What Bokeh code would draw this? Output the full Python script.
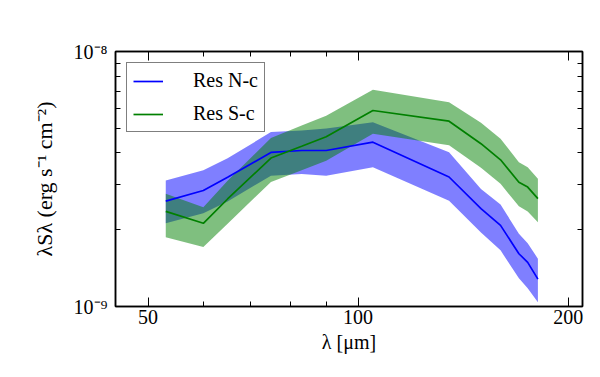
from bokeh.plotting import figure
from bokeh.models import (FixedTicker, CustomJSTickFormatter, LogAxis, Legend, LegendItem)
from bokeh.embed import file_html
from bokeh.resources import INLINE

# wavelengths (micron)
wav = [53, 60, 65, 75, 83, 90, 105, 135, 150, 160, 170, 175, 181]

# Res N-c (units of 1e-9 erg s^-1 cm^-2)
n_mid = [2.59, 2.85, 3.21, 4.02, 4.09, 4.09, 4.41, 3.22, 2.42, 2.08, 1.61, 1.49, 1.28]
n_hi = [3.12, 3.42, 3.81, 4.83, 4.90, 4.99, 5.28, 4.03, 2.89, 2.51, 1.93, 1.77, 1.54]
n_lo = [2.12, 2.32, 2.58, 3.26, 3.31, 3.26, 3.52, 2.60, 1.95, 1.66, 1.29, 1.18, 1.04]

# Res S-c
s_mid = [2.36, 2.12, 2.64, 3.82, 4.25, 4.63, 5.87, 5.33, 4.35, 3.76, 3.07, 2.94, 2.65]
s_hi = [2.77, 2.45, 3.11, 4.58, 5.13, 5.60, 7.08, 6.33, 5.25, 4.55, 3.68, 3.52, 3.17]
s_lo = [1.87, 1.71, 2.11, 3.08, 3.42, 3.73, 4.76, 4.29, 3.50, 3.03, 2.47, 2.36, 2.14]

scale = 1e-9
x_major = [50, 100, 200]
x_minor = [60, 70, 80, 90]
y_major = [1e-9, 1e-8]
y_minor = [k * 1e-9 for k in range(2, 10)]

FONT = "Liberation Serif"

p = figure(width=592, height=369, x_axis_type="log", y_axis_type="log",
           x_range=(44.9, 209.7), y_range=(1e-9, 1e-8),
           output_backend="svg", toolbar_location=None,
           min_border_left=115, min_border_right=10,
           min_border_top=51, min_border_bottom=63)
p.grid.visible = False
p.background_fill_color = "white"
p.border_fill_color = "white"
p.outline_line_color = "black"
p.outline_line_width = 1.5

def mul(a):
    return [v * scale for v in a]

p.varea(x=wav, y1=mul(n_lo), y2=mul(n_hi), fill_color="#0000ff", fill_alpha=0.5)
p.varea(x=wav, y1=mul(s_lo), y2=mul(s_hi), fill_color="#008000", fill_alpha=0.5)
rn = p.line(wav, mul(n_mid), line_color="#0000ff", line_width=1.7)
rs = p.line(wav, mul(s_mid), line_color="#008000", line_width=1.7)

xt = FixedTicker(ticks=x_major, minor_ticks=x_minor)
yt = FixedTicker(ticks=y_major, minor_ticks=y_minor)
yfmt = CustomJSTickFormatter(code="return tick < 5e-9 ? '10\u207b\u2079' : '10\u207b\u2078';")

def style(ax):
    ax.axis_line_color = "black"
    ax.axis_line_width = 1.5
    ax.major_tick_in = 9
    ax.major_tick_out = 0
    ax.minor_tick_in = 5
    ax.minor_tick_out = 0
    ax.major_tick_line_color = "black"
    ax.minor_tick_line_color = "black"
    ax.major_label_text_font = FONT
    ax.major_label_text_font_size = "20px"
    ax.major_label_text_color = "black"
    ax.axis_label_text_font = FONT
    ax.axis_label_text_font_size = "20px"
    ax.axis_label_text_font_style = "normal"
    ax.axis_label_text_color = "black"

xa = p.xaxis[0]
xa.ticker = xt
style(xa)
xa.major_label_standoff = 3
xa.axis_label = "λ [μm]"
xa.axis_label_standoff = 4

ya = p.yaxis[0]
ya.ticker = yt
ya.formatter = yfmt
style(ya)
ya.major_label_standoff = 8
ya.axis_label = "λSλ (erg s⁻¹ cm⁻²)"
ya.axis_label_text_font_size = "22px"
ya.axis_label_standoff = 14

top = LogAxis(ticker=FixedTicker(ticks=x_major, minor_ticks=x_minor))
style(top)
top.major_label_text_font_size = "1px"
top.major_label_text_alpha = 0
top.major_label_standoff = 0
p.add_layout(top, "above")

right = LogAxis(ticker=FixedTicker(ticks=y_major, minor_ticks=y_minor))
style(right)
right.major_label_text_font_size = "1px"
right.major_label_text_alpha = 0
right.major_label_standoff = 0
p.add_layout(right, "right")

legend = Legend(items=[LegendItem(label="Res N-c", renderers=[rn]),
                       LegendItem(label="Res S-c", renderers=[rs])],
                location="top_left")
legend.margin = 11
legend.padding = 6
legend.spacing = 10
legend.glyph_width = 30
legend.glyph_height = 20
legend.label_height = 20
legend.label_standoff = 30
legend.label_text_font = FONT
legend.label_text_font_size = "20px"
legend.label_text_color = "black"
legend.border_line_color = "black"
legend.border_line_width = 1.5
legend.background_fill_alpha = 1.0
p.add_layout(legend, "center")

with open("out.html", "w", encoding="utf-8") as f:
    f.write(file_html(p, INLINE))
